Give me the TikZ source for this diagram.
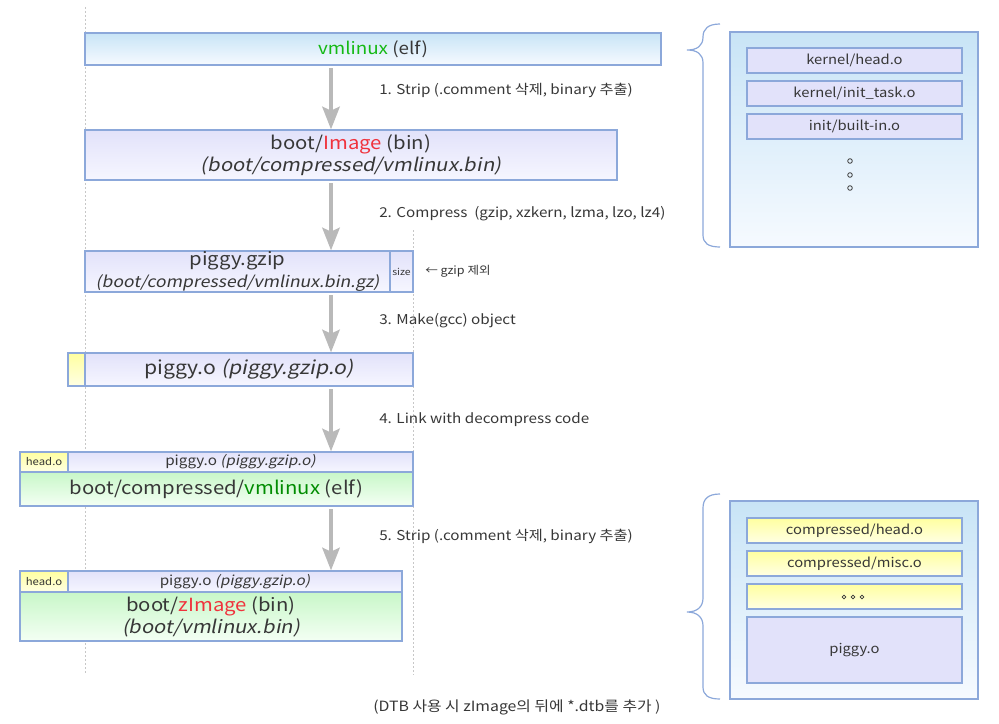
\documentclass[tikz,border=0pt]{standalone}
\usepackage{fontspec}
\setmainfont{Noto Sans CJK KR}[FakeStretch=1.12,ItalicFont={Noto Sans CJK KR},ItalicFeatures={FakeSlant=0.2}]
\usetikzlibrary{fit,arrows.meta}
\definecolor{bordc}{RGB}{140,168,218}
\definecolor{txt}{RGB}{55,55,55}
\definecolor{grn}{RGB}{20,185,20}
\definecolor{dgrn}{RGB}{0,140,0}
\definecolor{rd}{RGB}{240,50,60}
\definecolor{blueT}{RGB}{200,228,246}
\definecolor{blueB}{RGB}{246,250,255}
\definecolor{lavT}{RGB}{226,226,250}
\definecolor{lavB}{RGB}{246,246,255}
\definecolor{yelT}{RGB}{255,255,160}
\definecolor{yelB}{RGB}{255,255,228}
\definecolor{grnT}{RGB}{200,247,200}
\definecolor{grnB}{RGB}{244,255,244}
\definecolor{arr}{RGB}{185,185,185}
\tikzset{
  x=0.75pt,y=-0.75pt,
  every node/.style={text=txt},
  bx/.style={draw=bordc,line width=0.9pt,inner sep=0pt},
  bluebox/.style={bx,top color=blueT,bottom color=blueB},
  lavbox/.style={bx,top color=lavT,bottom color=lavB},
  lavflat/.style={bx,fill=lavT},
  yelbox/.style={bx,top color=yelT,bottom color=yelB},
  grnbox/.style={bx,top color=grnT,bottom color=grnB},
  tx/.style={inner sep=0pt,align=center},
  flow/.style={draw=arr,line width=3pt,-{Stealth[length=17pt,width=13pt,inset=3pt]},shorten <=2pt},
  lbl/.style={anchor=west,font=\fontsize{10.2}{12}\selectfont,inner sep=0pt},
  guide/.style={draw=black!22,line width=0.6pt,dash pattern=on 1.5pt off 1.5pt},
  brace/.style={draw=bordc,line width=0.9pt},
  big/.style={font=\fontsize{13.6}{16.5}\selectfont},
  mid/.style={font=\fontsize{10.2}{12}\selectfont},
  small/.style={font=\fontsize{8.4}{10}\selectfont},
  panel/.style={font=\fontsize{9.9}{12}\selectfont},
  tiny/.style={font=\fontsize{7.6}{9}\selectfont},
}
\begin{document}
\begin{tikzpicture}
\useasboundingbox (0,0) rectangle (999,724);
% guide lines
\coordinate (g1t) at (85,7); \coordinate (g1b) at (85,675);
\coordinate (g2t) at (413,230); \coordinate (g2b) at (413,675);
\draw[guide] (g1t) -- (g1b);
\draw[guide] (g2t) -- (g2b);
\coordinate (ax) at (331,0);
% main column boxes
\node[bluebox,fit={(85,33) (661,65)}] (vml) {};
\node[lavbox,fit={(85,130) (617,180)}] (img) {};
\node[lavbox,fit={(85,251) (390,292)}] (gz) {};
\node[lavbox,fit={(390,251) (413,292)}] (gzs) {};
\node[yelbox,fit={(68,353) (85,386)}] (poy) {};
\node[lavbox,fit={(85,353) (413,386)}] (po) {};
\node[yelbox,fit={(20,452) (68,472)}] (h1) {};
\node[lavbox,fit={(68,452) (413,472)}] (p1) {};
\node[grnbox,fit={(20,472) (413,506)}] (cv) {};
\node[yelbox,fit={(20,571) (68,592)}] (h2) {};
\node[lavbox,fit={(68,571) (402,592)}] (p2) {};
\node[grnbox,fit={(20,592) (402,641)}] (zi) {};
% main column texts
\node[tx,font=\fontsize{12.6}{15}\selectfont] (vml-t) at (vml) {\textcolor{grn}{vmlinux} (elf)};
\node[tx,big] (img-t) at (img) {boot/\textcolor{rd}{Image} (bin)\\\textit{(boot/compressed/vmlinux.bin)}};
\node[tx,font=\fontsize{13.6}{16}\selectfont] (gz-t) at (gz) {piggy.gzip\\{\fontsize{11.8}{14}\selectfont\textit{(boot/compressed/vmlinux.bin.gz)}}};
\node[tx,font=\fontsize{7}{8}\selectfont] (gzs-t) at (gzs) {size};
\node[lbl,small] (gzn) at (425,271) {← gzip 제외};
\node[tx,font=\fontsize{14.2}{16}\selectfont] (po-t) at (po) {piggy.o \textit{(piggy.gzip.o)}};
\node[tx,tiny] (h1-t) at (h1) {head.o};
\node[tx,mid] (p1-t) at (p1) {piggy.o \textit{(piggy.gzip.o)}};
\node[tx,big] (cv-t) at (cv) {boot/compressed/\textcolor{dgrn}{vmlinux} (elf)};
\node[tx,tiny] (h2-t) at (h2) {head.o};
\node[tx,mid] (p2-t) at (p2) {piggy.o \textit{(piggy.gzip.o)}};
\node[tx,big] (zi-t) at (zi) {boot/\textcolor{rd}{zImage} (bin)\\\textit{(boot/vmlinux.bin)}};
% arrows
\draw[flow] (vml.south -| ax) -- (img.north -| ax);
\draw[flow] (img.south -| ax) -- (gz.north -| ax);
\draw[flow] (gz.south -| ax) -- (po.north -| ax);
\draw[flow] (po.south -| ax) -- (p1.north -| ax);
\draw[flow] (cv.south -| ax) -- (p2.north -| ax);
% labels
\node[lbl] (l1) at (379,90) {1. Strip (.comment 삭제, binary 추출)};
\node[lbl] (l2) at (379,214) {2. Compress\ \ (gzip, xzkern, lzma, lzo, lz4)};
\node[lbl] (l3) at (379,321) {3. Make(gcc) object};
\node[lbl] (l4) at (379,420) {4. Link with decompress code};
\node[lbl] (l5) at (379,536) {5. Strip (.comment 삭제, binary 추출)};
\node[lbl,font=\fontsize{10.6}{12}\selectfont] (fn) at (373,707) {(DTB 사용 시 zImage의 뒤에 *.dtb를 추가 )};
% right panel 1
\node[bluebox,fit={(730,32) (978,247)}] (rp1) {};
\node[lavflat,fit={(747,48) (962,73)}] (k1) {};
\node[lavflat,fit={(747,81) (962,106)}] (k2) {};
\node[lavflat,fit={(747,114) (962,139)}] (k3) {};
\node[tx,panel] (k1-t) at (k1) {kernel/head.o};
\node[tx,panel] (k2-t) at (k2) {kernel/init\_task.o};
\node[tx,panel] (k3-t) at (k3) {init/built-in.o};
\foreach \yy in {161,175,188} \draw[txt,line width=0.6pt] (850,\yy) circle (2.3);
\draw[brace] (720,24) .. controls (708,24) and (703,29) .. (703,37)
  .. controls (703,46) and (697,50) .. (687,50)
  .. controls (697,50) and (703,54) .. (703,63)
  -- (703,235) .. controls (703,243) and (708,247) .. (720,247);
% right panel 2
\node[bluebox,fit={(730,501) (978,699)}] (rp2) {};
\node[yelbox,fit={(747,518) (962,543)}] (c1) {};
\node[yelbox,fit={(747,551) (962,576)}] (c2) {};
\node[yelbox,fit={(747,584) (962,609)}] (c3) {};
\node[lavflat,fit={(747,617) (962,683)}] (c4) {};
\node[tx,panel] (c1-t) at (c1) {compressed/head.o};
\node[tx,panel] (c2-t) at (c2) {compressed/misc.o};
\node[tx,panel] (c4-t) at (c4) {piggy.o};
\foreach \xx in {844,853,862} \draw[txt,line width=0.5pt] (\xx,597) circle (1.9);
\draw[brace] (720,494) .. controls (708,494) and (703,499) .. (703,508)
  -- (703,598) .. controls (703,607) and (697,612) .. (687,612)
  .. controls (697,612) and (703,617) .. (703,626)
  -- (703,687) .. controls (703,695) and (708,699) .. (720,699);
\end{tikzpicture}
\end{document}
